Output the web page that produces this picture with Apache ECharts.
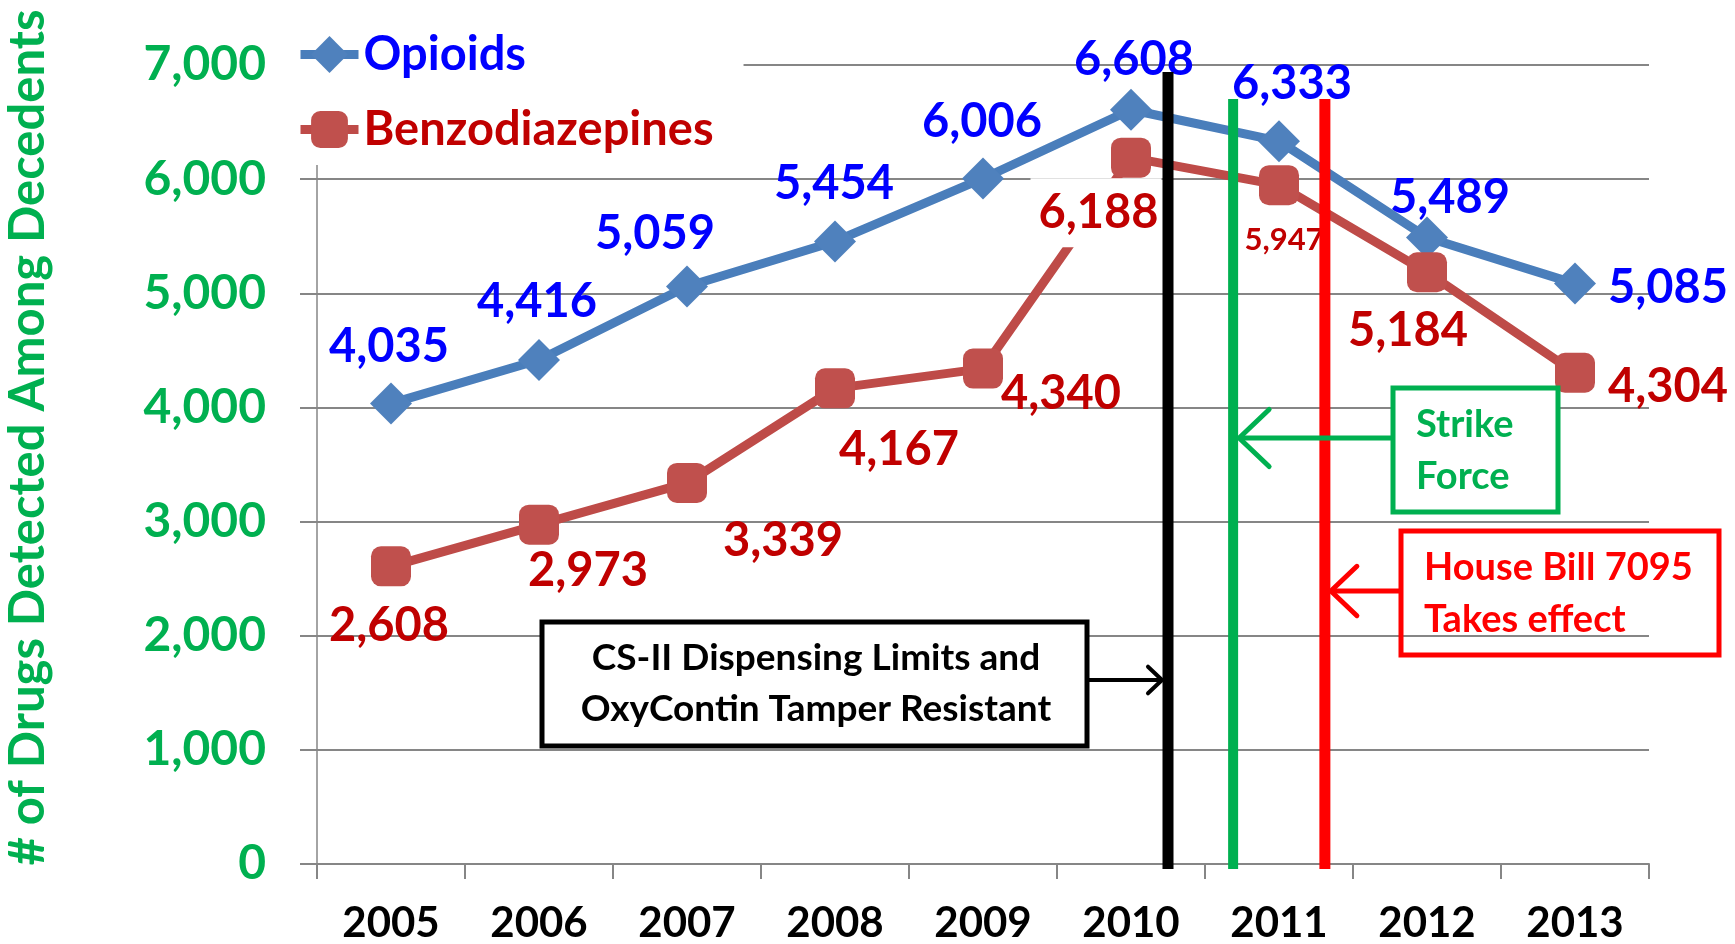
<!DOCTYPE html>
<html>
<head>
<meta charset="utf-8">
<title>Drugs Detected Among Decedents</title>
<script src="https://cdn.jsdelivr.net/npm/echarts@6/dist/echarts.min.js"></script>
<style>
  html, body { margin: 0; padding: 0; background: #fff; }
  #chart { width: 1735px; height: 944px; }
</style>
</head>
<body>
<div id="chart"></div>
<script>
// data
var years = ['2005', '2006', '2007', '2008', '2009', '2010', '2011', '2012', '2013'];
var opioids = [4035, 4416, 5059, 5454, 6006, 6608, 6333, 5489, 5085];
var benzos = [2608, 2973, 3339, 4167, 4340, 6188, 5947, 5184, 4304];

// policy events: position on the year scale and how high the marker line goes
var eventNames = ['CS-II limits', 'Strike Force', 'HB 7095'];
var eventYears = [2010.75, 2011.19, 2011.81];
var eventTops = [6939, 6702, 6702];

// label placement (offset from each point)
var opioidOffsets = [[-2, -57], [-2, -58], [-32, -53], [-1, -58], [-1, -57], [3, -50], [13, -57], [23, -40], [93, 4]];
var benzoOffsets = [[-2, 60], [49, 46], [96, 58], [64, 61], [78, 25], [-35, 55], [5, 55], [-19, 59], [93, 14]];

var FONT = 'Lato';
var GREEN = '#00B050';
var GRAY = '#868686';

function fmt(v) {
  return String(v).replace(/\B(?=(\d{3})+(?!\d))/g, ',');
}

var opioidData = opioids.map(function (v, i) {
  return { value: v, label: { offset: opioidOffsets[i] } };
});
var benzoData = benzos.map(function (v, i) {
  var item = { value: v, label: { offset: benzoOffsets[i] } };
  if (i === 5) {
    item.label.backgroundColor = '#fff';
    item.label.padding = [10, 3, 12, 8];
  }
  if (i === 6) {
    item.label.fontSize = 31;
  }
  return item;
});

var chart = echarts.init(document.getElementById('chart'));

var option = {
  animation: false,
  backgroundColor: '#fff',
  grid: { left: 317, right: 86, top: 65, bottom: 80, outerBoundsMode: 'none', containLabel: false },
  legend: {
    orient: 'vertical',
    left: 286,
    top: 21,
    itemWidth: 58,
    itemHeight: 46,
    itemGap: 28,
    padding: [10, 30, 12, 10],
    backgroundColor: '#fff',
    lineStyle: { width: 9 },
    textStyle: { fontSize: 47, fontWeight: 'bold', fontFamily: FONT },
    data: [
      { name: 'Opioids', textStyle: { color: '#0000FF' } },
      { name: 'Benzodiazepines', textStyle: { color: '#C00000' } }
    ]
  },
  xAxis: [{
    type: 'category',
    data: years,
    boundaryGap: true,
    axisLine: { lineStyle: { color: GRAY, width: 2 } },
    axisTick: { show: true, length: 15, lineStyle: { color: GRAY, width: 2 } },
    axisLabel: { color: '#000', fontSize: 42, fontWeight: 'bold', fontFamily: FONT, margin: 38 }
  }, {
    type: 'value',
    min: 2005,
    max: 2014,
    show: false
  }],
  yAxis: {
    type: 'value',
    min: 0,
    max: 7000,
    interval: 1000,
    name: '# of Drugs Detected Among Decedents',
    nameLocation: 'middle',
    nameGap: 264,
    nameTextStyle: {
      color: GREEN, fontSize: 49, fontWeight: 'bold', fontFamily: FONT,
      padding: [0, 0, 0, 54]
    },
    axisLine: { show: true, lineStyle: { color: GRAY, width: 1.5 } },
    axisTick: { show: true, length: 17, lineStyle: { color: GRAY, width: 2 } },
    splitLine: { lineStyle: { color: GRAY, width: 2 } },
    axisLabel: {
      color: GREEN, fontSize: 48, fontWeight: 'bold', fontFamily: FONT, margin: 51,
      formatter: function (v) { return fmt(v); }
    }
  },
  series: [{
    name: 'Opioids',
    type: 'line',
    data: opioidData,
    symbol: 'diamond',
    symbolSize: 42,
    lineStyle: { color: '#4A7EBB', width: 9 },
    itemStyle: { color: '#4F81BD' },
    label: {
      show: true, position: 'inside', color: '#0000FF',
      fontSize: 47, fontWeight: 'bold', fontFamily: FONT,
      formatter: function (p) { return fmt(p.value); }
    }
  }, {
    name: 'Benzodiazepines',
    type: 'line',
    data: benzoData,
    symbol: 'roundRect',
    symbolSize: 40,
    lineStyle: { color: '#BE4B48', width: 9 },
    itemStyle: { color: '#C0504D' },
    label: {
      show: true, position: 'inside', color: '#C00000',
      fontSize: 47, fontWeight: 'bold', fontFamily: FONT,
      formatter: function (p) { return fmt(p.value); }
    }
  }]
};

chart.setOption(option);

// annotations: event lines, boxes and arrows
var lineColors = ['#000000', '#00B050', '#FF0000'];
var lineWidths = [11, 10, 11];
var xs = eventYears.map(function (y) { return chart.convertToPixel({ xAxisIndex: 1 }, y); });
var yBottom = chart.convertToPixel({ yAxisIndex: 0 }, -44);

var graphics = [];
eventYears.forEach(function (y, i) {
  graphics.push({
    type: 'line', z: 100,
    shape: { x1: xs[i], y1: chart.convertToPixel({ yAxisIndex: 0 }, eventTops[i]), x2: xs[i], y2: yBottom },
    style: { stroke: lineColors[i], lineWidth: lineWidths[i] }
  });
});

function box(x, y, w, h, color, fill) {
  return { type: 'rect', z: 90, shape: { x: x, y: y, width: w, height: h },
    style: { fill: fill, stroke: color, lineWidth: 5 } };
}
function txt(s, x, y, color, align, size) {
  return { type: 'text', z: 95,
    style: { text: s, x: x, y: y, fill: color, align: align, verticalAlign: 'middle',
      fontSize: size, fontWeight: 'bold', fontFamily: FONT } };
}
function arrow(x1, x2, y, color, w, head) {
  var dir = x2 > x1 ? -1 : 1;
  return [
    { type: 'polyline', z: 101, shape: { points: [[x1, y], [x2, y]] },
      style: { stroke: color, lineWidth: w, fill: null } },
    { type: 'polyline', z: 101, shape: { points: [[x2 + dir * head, y - head * 0.95], [x2, y], [x2 + dir * head, y + head * 0.95]] },
      style: { stroke: color, lineWidth: w, fill: null, lineCap: 'round', lineJoin: 'round' } }
  ];
}

// CS-II box
graphics.push(box(542, 622, 545, 124, '#000', '#fff'));
graphics.push(txt('CS-II Dispensing Limits and', 816, 658, '#000', 'center', 37));
graphics.push(txt('OxyContin Tamper Resistant', 816, 709, '#000', 'center', 37));
graphics = graphics.concat(arrow(1087, xs[0] - 6, 680, '#000', 4, 14));

// Strike Force box
graphics.push(box(1393, 388, 165, 124, GREEN, '#fff'));
graphics.push(txt('Strike', 1416, 425, GREEN, 'left', 38));
graphics.push(txt('Force', 1416, 477, GREEN, 'left', 38));
graphics = graphics.concat(arrow(1393, xs[1] + 6, 438, GREEN, 5, 30));

// House Bill box
graphics.push(box(1401, 531, 318, 124, '#FF0000', 'none'));
graphics.push(txt('House Bill 7095', 1424, 568, '#FF0000', 'left', 38));
graphics.push(txt('Takes effect', 1424, 620, '#FF0000', 'left', 38));
graphics = graphics.concat(arrow(1401, xs[2] + 6, 591, '#FF0000', 5, 26));

chart.setOption({ graphic: graphics });
</script>
</body>
</html>
